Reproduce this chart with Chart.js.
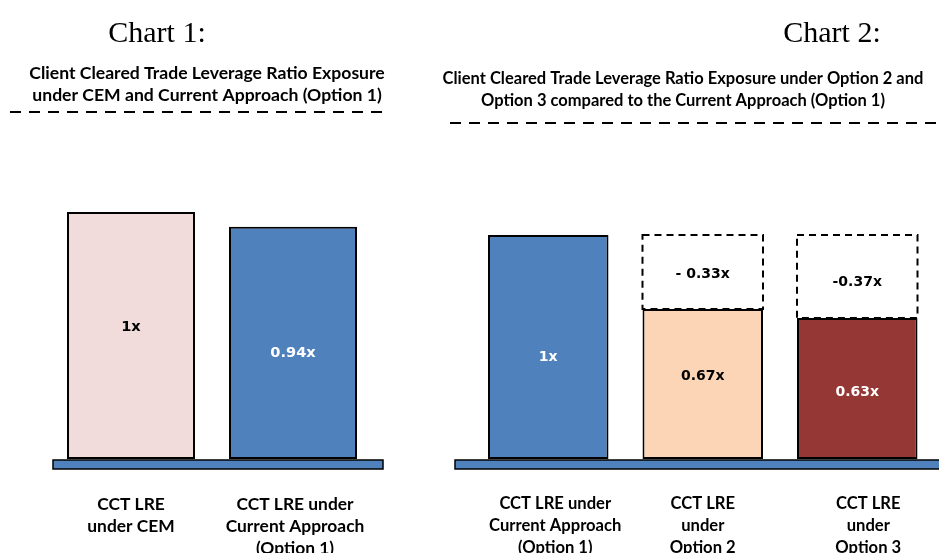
<!DOCTYPE html>
<html>
<head>
<meta charset="utf-8">
<script src="https://cdn.jsdelivr.net/npm/chart.js@4.4.1/dist/chart.umd.min.js"></script>
<style>
  html, body { margin: 0; padding: 0; background: #fff; overflow: hidden; }
  #wrap { position: relative; width: 939px; height: 553px; overflow: hidden; }
  canvas { position: absolute; top: 0; }
  #c1 { left: 0; }
  #c2 { left: 420px; }
</style>
</head>
<body>
<div id="wrap">
  <canvas id="c1" width="420" height="560"></canvas>
  <canvas id="c2" width="519" height="560"></canvas>
</div>
<script>
// chart 1 data
var chart1Categories = [["CCT LRE", "under CEM"], ["CCT LRE under", "Current Approach", "(Option 1)"]];
var chart1Values = [1, 0.94];
var chart1ValueLabels = ["1x", "0.94x"];

// chart 2 data
var chart2Categories = [["CCT LRE under", "Current Approach", "(Option 1)"], ["CCT LRE", "under", "Option 2"], ["CCT LRE", "under", "Option 3"]];
var chart2Values = [1, 0.67, 0.63];
var chart2Reductions = [0, 0.33, 0.37];
var chart2ValueLabels = ["1x", "0.67x", "0.63x"];
var chart2ReductionLabels = ["", "- 0.33x", "-0.37x"];

var BLUE = '#4F81BD';

function decorPlugin(cfg) {
    return {
        id: 'decor_' + cfg.name,
        beforeDatasetsDraw: function (chart) {
            var ctx = chart.ctx;
            ctx.save();
            // base platform
            ctx.fillStyle = BLUE;
            ctx.strokeStyle = '#000';
            ctx.lineWidth = 1.5;
            ctx.fillRect(cfg.platform[0], 460, cfg.platform[1] - cfg.platform[0], 9);
            ctx.strokeRect(cfg.platform[0], 460, cfg.platform[1] - cfg.platform[0], 9);
            ctx.restore();
        },
        afterDraw: function (chart) {
            var ctx = chart.ctx;
            var area = chart.chartArea;
            var xScale = chart.scales.x;
            var yScale = chart.scales.y;

            // dashed outline for reduction segments (drawn from the scales)
            if (cfg.dashedDataset !== undefined) {
                var meta = chart.getDatasetMeta(cfg.dashedDataset);
                meta.data.forEach(function (bar, i) {
                    if (!cfg.reductions[i]) return;
                    var x = xScale.getPixelForValue(i);
                    var w = bar.width;
                    var top = yScale.getPixelForValue(cfg.stackBase[i] + cfg.reductions[i]);
                    var bottom = yScale.getPixelForValue(cfg.stackBase[i]);
                    ctx.save();
                    ctx.strokeStyle = '#000';
                    ctx.lineWidth = 2;
                    ctx.setLineDash([7, 5]);
                    ctx.beginPath();
                    ctx.rect(x - w / 2, top, w, bottom - top);
                    ctx.stroke();
                    ctx.restore();
                });
            }

            ctx.save();
            // heading
            ctx.fillStyle = '#000';
            ctx.textAlign = 'center';
            ctx.textBaseline = 'alphabetic';
            ctx.font = '30px "Liberation Serif"';
            ctx.fillText(cfg.heading, cfg.headingX, 42);

            // sub title
            ctx.font = 'bold ' + cfg.titleSize + 'px Lato';
            ctx.textBaseline = 'middle';
            cfg.title.forEach(function (line, i) {
                ctx.fillText(line, cfg.titleX, cfg.titleY + i * 22);
            });

            // dashed rule under title
            ctx.beginPath();
            ctx.setLineDash([11, 8]);
            ctx.lineWidth = 2;
            ctx.strokeStyle = '#000';
            ctx.moveTo(cfg.rule[0], cfg.rule[2]);
            ctx.lineTo(cfg.rule[1], cfg.rule[2]);
            ctx.stroke();
            ctx.setLineDash([]);

            // values inside the bars
            ctx.font = 'bold ' + cfg.valueSize + 'px "DejaVu Sans"';
            ctx.textAlign = 'center';
            ctx.textBaseline = 'middle';
            cfg.valueLabels.forEach(function (set) {
                var meta = chart.getDatasetMeta(set.dataset);
                meta.data.forEach(function (bar, i) {
                    if (!set.labels[i]) return;
                    ctx.fillStyle = set.colors[i];
                    ctx.fillText(set.labels[i], bar.x, (bar.y + bar.base) / 2 + set.shift[i]);
                });
            });

            // category labels under the platform
            ctx.font = 'bold ' + cfg.labelSize + 'px Lato';
            ctx.fillStyle = '#000';
            cfg.categories.forEach(function (lines, i) {
                var x = xScale.getPixelForValue(i) + cfg.labelShift[i];
                lines.forEach(function (line, k) {
                    ctx.fillText(line, x, area.bottom + 45 + k * 22);
                });
            });
            ctx.restore();
        }
    };
}

function baseOptions(pad, yMax) {
    return {
        responsive: false,
        animation: false,
        events: [],
        layout: { padding: pad },
        plugins: { legend: { display: false }, tooltip: { enabled: false } },
        scales: {
            x: { display: false, stacked: true },
            y: { display: false, stacked: true, min: 0, max: yMax }
        }
    };
}

// Chart 1
new Chart(document.getElementById('c1').getContext('2d'), {
    type: 'bar',
    data: {
        labels: chart1Categories,
        datasets: [{
            data: chart1Values,
            backgroundColor: ['#F2DCDB', BLUE],
            borderColor: '#000',
            borderWidth: 2,
            borderSkipped: false,
            barPercentage: 0.79,
            categoryPercentage: 1
        }]
    },
    options: baseOptions({ left: 50, right: 46, top: 150, bottom: 101 }, 309 / 247),
    plugins: [decorPlugin({
        name: 'c1',
        heading: 'Chart 1:',
        headingX: 157,
        title: ['Client Cleared Trade Leverage Ratio Exposure', 'under CEM and Current Approach (Option 1)'],
        titleSize: 17.6,
        titleX: 207,
        titleY: 73,
        rule: [10, 384, 112],
        platform: [53, 383],
        categories: chart1Categories,
        labelSize: 17.4,
        labelShift: [0, 2],
        valueSize: 14.6,
        valueLabels: [{ dataset: 0, labels: chart1ValueLabels, colors: ['#000', '#fff'], shift: [-8, 10] }]
    })]
});

// Chart 2
new Chart(document.getElementById('c2').getContext('2d'), {
    type: 'bar',
    data: {
        labels: chart2Categories,
        datasets: [{
            data: chart2Values,
            backgroundColor: [BLUE, '#FBD5B5', '#953735'],
            borderColor: '#000',
            borderWidth: 2,
            borderSkipped: false,
            barPercentage: 0.78,
            categoryPercentage: 1
        }, {
            data: chart2Reductions,
            backgroundColor: '#fff',
            borderWidth: 0,
            barPercentage: 0.78,
            categoryPercentage: 1
        }]
    },
    options: baseOptions({ left: 51, right: 4.5, top: 150, bottom: 101 }, 309 / 224),
    plugins: [decorPlugin({
        name: 'c2',
        heading: 'Chart 2:',
        headingX: 412,
        title: ['Client Cleared Trade Leverage Ratio Exposure under Option 2 and', 'Option 3 compared to the Current Approach (Option 1)'],
        titleSize: 16.5,
        titleX: 263,
        titleY: 79,
        rule: [30, 525, 123],
        platform: [35, 525],
        categories: chart2Categories,
        labelSize: 16.6,
        labelShift: [7, 0, 11],
        dashedDataset: 1,
        reductions: chart2Reductions,
        stackBase: chart2Values,
        valueSize: 14,
        valueLabels: [
            { dataset: 0, labels: chart2ValueLabels, colors: ['#fff', '#000', '#fff'], shift: [10, -8, 4] },
            { dataset: 1, labels: chart2ReductionLabels, colors: ['#000', '#000', '#000'], shift: [0, 2, 6] }
        ]
    })]
});
</script>
</body>
</html>
